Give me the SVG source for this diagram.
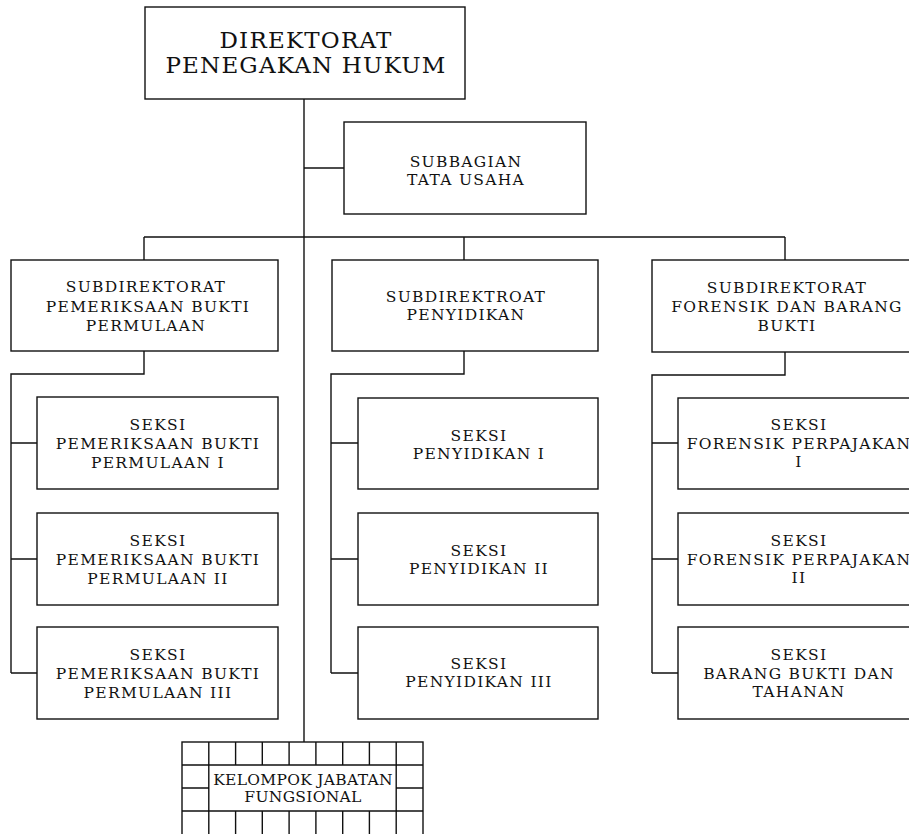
<svg xmlns="http://www.w3.org/2000/svg" width="909" height="834" viewBox="0 0 909 834">
<style>
.box{fill:#fff;stroke:#111;stroke-width:1.4}
.ln{fill:none;stroke:#111;stroke-width:1.4}
text{font-family:"DejaVu Serif","Liberation Serif",serif;fill:#111;text-anchor:middle;font-size:15.5px;letter-spacing:1.3px}
.big{font-size:23px;letter-spacing:1.2px}
.sm{font-size:15.5px;letter-spacing:0.3px}
</style>
<rect width="909" height="834" fill="#fff"/>
<g id="connectors">
<path class="ln" d="M304,99 V742"/>
<path class="ln" d="M304,168 H344"/>
<path class="ln" d="M144,237 H785 M144,237 V260 M464,237 V260 M785,237 V260"/>
<path class="ln" d="M144,351 V374 H11 V673 M11,443 H37 M11,559 H37 M11,673 H37"/>
<path class="ln" d="M464,351 V374 H331 V673 M331,443 H358 M331,559 H358 M331,673 H358"/>
<path class="ln" d="M785,352 V375 H652 V673 M652,443 H678 M652,559 H678 M652,673 H678"/>
</g>
<g id="direktorat">
<rect class="box" x="145" y="7" width="320" height="92"/>
<text class="big" x="306" y="48">DIREKTORAT</text>
<text class="big" x="306" y="73">PENEGAKAN HUKUM</text>
</g>
<g id="subbagian">
<rect class="box" x="344" y="122" width="242" height="92"/>
<text x="466" y="167">SUBBAGIAN</text>
<text x="466" y="185">TATA USAHA</text>
</g>
<g id="subdir-pbp">
<rect class="box" x="11" y="260" width="267" height="91"/>
<text x="146" y="292">SUBDIREKTORAT</text>
<text x="148" y="311.5">PEMERIKSAAN BUKTI</text>
<text x="146" y="331">PERMULAAN</text>
</g>
<g id="subdir-penyidikan">
<rect class="box" x="332" y="260" width="266" height="91"/>
<text x="466" y="302">SUBDIREKTROAT</text>
<text x="466" y="320">PENYIDIKAN</text>
</g>
<g id="subdir-forensik">
<rect class="box" x="652" y="260" width="266" height="92"/>
<text x="787" y="292.5">SUBDIREKTORAT</text>
<text x="787" y="312">FORENSIK DAN BARANG</text>
<text x="787" y="331">BUKTI</text>
</g>
<g id="seksi-pbp-1">
<rect class="box" x="37" y="397" width="241" height="92"/>
<text x="158" y="430">SEKSI</text>
<text x="158" y="449">PEMERIKSAAN BUKTI</text>
<text x="158" y="468">PERMULAAN I</text>
</g>
<g id="seksi-pbp-2">
<rect class="box" x="37" y="513" width="241" height="92"/>
<text x="158" y="546">SEKSI</text>
<text x="158" y="565">PEMERIKSAAN BUKTI</text>
<text x="158" y="584">PERMULAAN II</text>
</g>
<g id="seksi-pbp-3">
<rect class="box" x="37" y="627" width="241" height="92"/>
<text x="158" y="660">SEKSI</text>
<text x="158" y="679">PEMERIKSAAN BUKTI</text>
<text x="158" y="698">PERMULAAN III</text>
</g>
<g id="seksi-penyidikan-1">
<rect class="box" x="358" y="398" width="240" height="91"/>
<text x="479" y="441">SEKSI</text>
<text x="479" y="459">PENYIDIKAN I</text>
</g>
<g id="seksi-penyidikan-2">
<rect class="box" x="358" y="513" width="240" height="92"/>
<text x="479" y="555.5">SEKSI</text>
<text x="479" y="573.5">PENYIDIKAN II</text>
</g>
<g id="seksi-penyidikan-3">
<rect class="box" x="358" y="627" width="240" height="92"/>
<text x="479" y="668.5">SEKSI</text>
<text x="479" y="687">PENYIDIKAN III</text>
</g>
<g id="seksi-forensik-1">
<rect class="box" x="678" y="398" width="240" height="91"/>
<text x="799" y="430">SEKSI</text>
<text x="799" y="448.5">FORENSIK PERPAJAKAN</text>
<text x="799" y="467">I</text>
</g>
<g id="seksi-forensik-2">
<rect class="box" x="678" y="513" width="240" height="92"/>
<text x="799" y="546">SEKSI</text>
<text x="799" y="564.5">FORENSIK PERPAJAKAN</text>
<text x="799" y="583">II</text>
</g>
<g id="seksi-barang-bukti">
<rect class="box" x="678" y="627" width="240" height="92"/>
<text x="799" y="660">SEKSI</text>
<text x="799" y="678.5">BARANG BUKTI DAN</text>
<text x="799" y="697">TAHANAN</text>
</g>
<g id="kelompok-jabatan-fungsional">
<rect class="box" x="182" y="742" width="241" height="96"/>
<path class="ln" d="M208.8,742 V838 M396.2,742 V838 M182,765 H423 M182,811 H423 M182,788 H208.8 M396.2,788 H423 M235.6,742 V765 M262.3,742 V765 M289.1,742 V765 M315.9,742 V765 M342.7,742 V765 M369.4,742 V765 M235.6,811 V838 M262.3,811 V838 M289.1,811 V838 M315.9,811 V838 M342.7,811 V838 M369.4,811 V838"/>
<text class="sm" x="303" y="785">KELOMPOK JABATAN</text>
<text class="sm" x="303" y="802">FUNGSIONAL</text>
</g>
</svg>
